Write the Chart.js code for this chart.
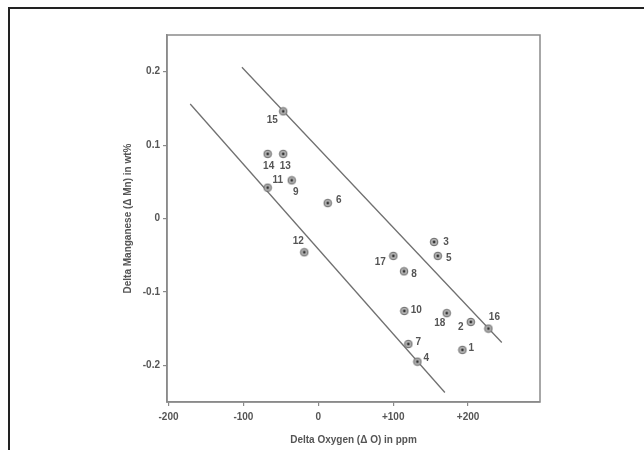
<!DOCTYPE html>
<html><head><meta charset="utf-8">
<script src="https://cdn.jsdelivr.net/npm/chart.js@4/dist/chart.umd.min.js"></script>
<style>
html,body{margin:0;padding:0;background:#fff;}
#wrap{position:relative;width:644px;height:450px;overflow:hidden;background:#fff;}
#frame{position:absolute;left:8px;top:7px;width:700px;height:500px;border-top:2px solid #222;border-left:2px solid #222;}
canvas{position:absolute;left:0;top:0;}
</style></head><body>
<div id="wrap"><div id="frame"></div><canvas id="c" width="644" height="450"></canvas></div>
<script>
// ---- data ----
const sampleIds = ['1','2','3','4','5','6','7','8','9','10','11','12','13','14','15','16','17','18'];
const deltaO   = [192.4, 203.6, 154.6, 132.3, 159.5, 12.6, 120.2, 114.5, -35.5, 114.9, -67.6, -18.7, -46.8, -67.6, -46.8, 227.1, 100.2, 171.5];
const deltaMn  = [-0.179, -0.141, -0.032, -0.195, -0.051, 0.021, -0.171, -0.072, 0.052, -0.126, 0.042, -0.046, 0.088, 0.088, 0.146, -0.150, -0.051, -0.129];
const upperBandO  = [-102, 245];
const upperBandMn = [0.206, -0.169];
const lowerBandO  = [-171, 169];
const lowerBandMn = [0.156, -0.237];
const xTickValues = [-200, -100, 0, 100, 200];
const xTickLabels = ['-200', '-100', '0', '+100', '+200'];
const yTickValues = [0.2, 0.1, 0, -0.1, -0.2];
const yTickLabels = ['0.2', '0.1', '0', '-0.1', '-0.2'];
const xTitle = 'Delta Oxygen (\u0394 O) in ppm';
const yTitle = 'Delta Manganese (\u0394 Mn) in wt%';

// ---- styles ----
const AX = '#8a8a8a';
const TXT = '#555';
const FONT = 'Liberation Sans, Arial, sans-serif';
// label offsets (px) relative to each marker, keyed by sample id
const labelOffsets = {
  '1':[9,-2],'2':[-10,5],'3':[12,0],'4':[9,-3],'5':[11,2],'6':[11,-3],'7':[10,-2],'8':[10,3],
  '9':[4,12],'10':[12,-1],'11':[10,-7],'12':[-6,-11],'13':[2,12],'14':[1,12],'15':[-11,9],
  '16':[6,-11],'17':[-13,6],'18':[-7,10]
};

const marker = document.createElement('canvas');
marker.width = 10; marker.height = 10;
(function(){
  const m = marker.getContext('2d');
  m.beginPath(); m.arc(5,5,3.8,0,Math.PI*2);
  m.fillStyle = '#b5b5b5'; m.fill();
  m.lineWidth = 1; m.strokeStyle = '#666'; m.stroke();
  m.beginPath(); m.arc(5,5,1.4,0,Math.PI*2);
  m.fillStyle = '#333'; m.fill();
})();

const pts = deltaO.map((x,i)=>({x:x, y:deltaMn[i]}));
const upper = upperBandO.map((x,i)=>({x:x, y:upperBandMn[i]}));
const lower = lowerBandO.map((x,i)=>({x:x, y:lowerBandMn[i]}));

const framePlugin = {
  id:'frameBox',
  afterDraw(chart){
    const {ctx, chartArea:a} = chart;
    ctx.save();
    ctx.strokeStyle = AX; ctx.lineWidth = 1.5;
    ctx.strokeRect(a.left, a.top, a.right-a.left, a.bottom-a.top);
    ctx.restore();
  }
};
const labelPlugin = {
  id:'pointLabels',
  afterDatasetsDraw(chart){
    const {ctx} = chart;
    const meta = chart.getDatasetMeta(0);
    ctx.save();
    ctx.font = 'bold 10px ' + FONT;
    ctx.fillStyle = TXT;
    ctx.textAlign = 'center'; ctx.textBaseline = 'middle';
    meta.data.forEach((el,i)=>{
      const id = sampleIds[i];
      const o = labelOffsets[id] || [8,0];
      ctx.fillText(id, el.x + o[0], el.y + o[1]);
    });
    ctx.restore();
  }
};

new Chart(document.getElementById('c'), {
  type:'scatter',
  data:{datasets:[
    {data:pts, pointStyle:marker, pointRadius:4, order:0},
    {data:upper, showLine:true, pointRadius:0, borderColor:'#707070', borderWidth:1.3, order:1},
    {data:lower, showLine:true, pointRadius:0, borderColor:'#707070', borderWidth:1.3, order:1}
  ]},
  options:{
    responsive:false, animation:false, devicePixelRatio:1,
    layout:{padding:{top:35,right:104,left:0,bottom:0}},
    plugins:{legend:{display:false}, tooltip:{enabled:false}},
    scales:{
      x:{type:'linear', min:-202, max:296,
        afterFit(s){ s.height = 48; },
        afterBuildTicks(s){ s.ticks = xTickValues.map(v=>({value:v})); },
        ticks:{autoSkip:false, maxRotation:0, padding:5, color:TXT,
          font:{family:FONT, size:10, weight:'bold'},
          callback:(v)=>{ const i = xTickValues.indexOf(v); return i>=0 ? xTickLabels[i] : ''; }},
        grid:{drawOnChartArea:false, tickLength:4, color:AX, lineWidth:1.2},
        border:{color:AX, width:1.5},
        title:{display:true, text:xTitle, color:TXT, font:{family:FONT, size:10, weight:'bold'}, padding:{top:0,bottom:4}}
      },
      y:{type:'linear', min:-0.25, max:0.25,
        afterFit(s){ s.width = 167; },
        afterBuildTicks(s){ s.ticks = yTickValues.map(v=>({value:v})); },
        ticks:{autoSkip:false, padding:3, color:TXT,
          font:{family:FONT, size:10, weight:'bold'},
          callback:(v)=>{ const i = yTickValues.findIndex(t=>Math.abs(t-v)<1e-9); return i>=0 ? yTickLabels[i] : ''; }},
        grid:{drawOnChartArea:false, tickLength:4, color:AX, lineWidth:1.2},
        border:{color:AX, width:1.5},
        title:{display:true, text:yTitle, color:TXT, font:{family:FONT, size:10, weight:'bold'}, padding:{top:122,bottom:0}}
      }
    }
  },
  plugins:[framePlugin, labelPlugin]
});
</script>
</body></html>
